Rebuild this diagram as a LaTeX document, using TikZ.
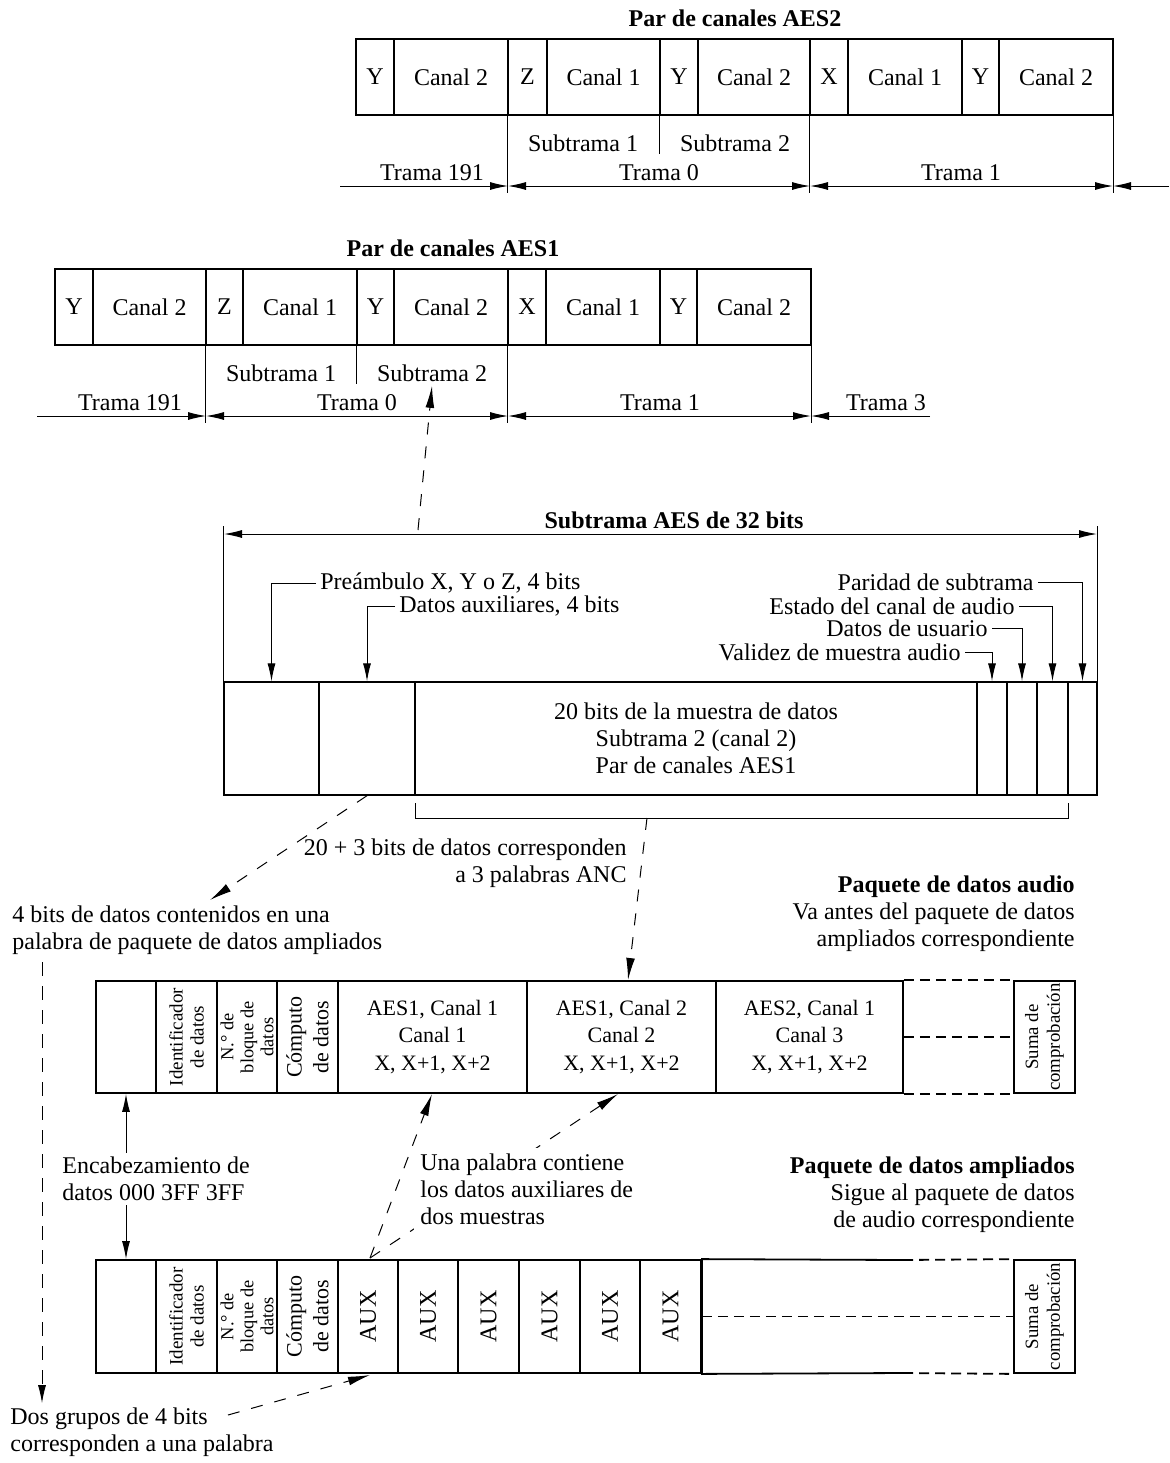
\documentclass[tikz,border=0pt]{standalone}
\usepackage{fontspec}
\setmainfont{Liberation Serif}
\usetikzlibrary{arrows.meta}
\newcommand\mkcell[7]{\node[#1, minimum width={(#4-#3)*0.5pt}, minimum height={(#6-#5)*0.5pt}] (#2) at ({(#3+#4)/2},{(#5+#6)/2}) {#7};}
\tikzset{
  every node/.style={font=\fontsize{12}{13.5}\selectfont, inner sep=2pt},
  aescell/.style={draw, line width=0.7pt, inner sep=0pt},
  pkcell/.style={draw, line width=0.9pt, inner sep=0pt, align=center, font=\fontsize{11}{13.6}\selectfont},
  hair/.style={line width=0.5pt},
  arrowend/.style={-{Latex[length=9pt,width=4pt]}},
  arrowboth/.style={{Latex[length=9pt,width=4pt]}-{Latex[length=9pt,width=4pt]}},
  dasharr/.style={line width=0.5pt, dash pattern=on 6pt off 6pt, -{Latex[length=11pt,width=4.4pt]}},
  pkdash/.style={line width=0.9pt, dash pattern=on 5pt off 3pt},
  vdash/.style={line width=0.5pt, dash pattern=on 7pt off 5pt, -{Latex[length=9pt,width=4pt]}},
  boldtitle/.style={font=\bfseries\fontsize{12}{13.5}\selectfont},
  rottext/.style={rotate=90, align=center, inner sep=0pt},
}
\begin{document}
\begin{tikzpicture}[x=0.5pt,y=-0.5pt]
\useasboundingbox (0,0) rectangle (1169,1463);

% ================= AES2 =================
\node[boldtitle] (t2) at (735,18) {Par de canales AES2};
\mkcell{aescell}{a2c1}{356}{394}{39}{115}{Y}
\mkcell{aescell}{a2c2}{394}{508}{39}{115}{Canal 2}
\mkcell{aescell}{a2c3}{508}{547}{39}{115}{Z}
\mkcell{aescell}{a2c4}{547}{660}{39}{115}{Canal 1}
\mkcell{aescell}{a2c5}{660}{698}{39}{115}{Y}
\mkcell{aescell}{a2c6}{698}{810}{39}{115}{Canal 2}
\mkcell{aescell}{a2c7}{810}{848}{39}{115}{X}
\mkcell{aescell}{a2c8}{848}{962}{39}{115}{Canal 1}
\mkcell{aescell}{a2c9}{962}{999}{39}{115}{Y}
\mkcell{aescell}{a2c10}{999}{1113}{39}{115}{Canal 2}
\draw[hair] (a2c3.south west) -- ++(0,77);
\draw[hair] (a2c7.south west) -- ++(0,77);
\draw[hair] (a2c10.south east) -- ++(0,77);
\draw[hair] (a2c5.south west) -- ++(0,38);
\node (a2s1) at (583,143) {Subtrama 1};
\node (a2s2) at (735,143) {Subtrama 2};
\node (a2f191) at (432,173) {Trama 191};
\node (a2f0) at (659,173) {Trama 0};
\node (a2f1) at (961,173) {Trama 1};
\coordinate (a2L) at (340,186);
\coordinate (a2t0) at (508,186);
\coordinate (a2t1) at (810,186);
\coordinate (a2t2) at (1113,186);
\coordinate (a2R) at (1169,186);
\draw[hair,arrowend] (a2L) -- (a2t0);
\draw[hair,arrowboth] (a2t0) -- (a2t1);
\draw[hair,arrowboth] (a2t1) -- (a2t2);
\draw[hair,arrowend] (a2R) -- (a2t2);

% ================= AES1 =================
\node[boldtitle] (t1) at (453,248) {Par de canales AES1};
\mkcell{aescell}{a1c1}{55}{93}{269}{345}{Y}
\mkcell{aescell}{a1c2}{93}{206}{269}{345}{Canal 2}
\mkcell{aescell}{a1c3}{206}{243}{269}{345}{Z}
\mkcell{aescell}{a1c4}{243}{357}{269}{345}{Canal 1}
\mkcell{aescell}{a1c5}{357}{394}{269}{345}{Y}
\mkcell{aescell}{a1c6}{394}{508}{269}{345}{Canal 2}
\mkcell{aescell}{a1c7}{508}{546}{269}{345}{X}
\mkcell{aescell}{a1c8}{546}{660}{269}{345}{Canal 1}
\mkcell{aescell}{a1c9}{660}{697}{269}{345}{Y}
\mkcell{aescell}{a1c10}{697}{811}{269}{345}{Canal 2}
\draw[hair] (a1c3.south west) -- ++(0,77);
\draw[hair] (a1c7.south west) -- ++(0,77);
\draw[hair] (a1c10.south east) -- ++(0,77);
\draw[hair] (a1c5.south west) -- ++(0,38);
\node (a1s1) at (281,373) {Subtrama 1};
\node (a1s2) at (432,373) {Subtrama 2};
\node (a1f191) at (130,403) {Trama 191};
\node (a1f0) at (357,403) {Trama 0};
\node (a1f1) at (660,403) {Trama 1};
\node (a1f3) at (886,403) {Trama 3};
\coordinate (a1L) at (37,416);
\coordinate (a1t0) at (206,416);
\coordinate (a1t1) at (508,416);
\coordinate (a1t2) at (811,416);
\coordinate (a1R) at (930,416);
\draw[hair,arrowend] (a1L) -- (a1t0);
\draw[hair,arrowboth] (a1t0) -- (a1t1);
\draw[hair,arrowboth] (a1t1) -- (a1t2);
\draw[hair,arrowend] (a1R) -- (a1t2);

% ================= Subtrama AES =================
\node[boldtitle] (tsf) at (674,520) {Subtrama AES de 32 bits};
\mkcell{aescell}{sfpre}{224}{319}{682}{795}{}
\mkcell{aescell}{sfaux}{319}{415}{682}{795}{}
\mkcell{aescell, align=center}{sfdat}{415}{977}{682}{795}{20 bits de la muestra de datos\\Subtrama 2 (canal 2)\\Par de canales AES1}
\mkcell{aescell}{sfv}{977}{1007}{682}{795}{}
\mkcell{aescell}{sfu}{1007}{1037}{682}{795}{}
\mkcell{aescell}{sfc}{1037}{1068}{682}{795}{}
\mkcell{aescell}{sfp}{1068}{1097}{682}{795}{}
\draw[hair] (sfpre.north west) -- ++(0,-155);
\draw[hair] (sfp.north east) -- ++(0,-155);
\coordinate (sfL) at (224,534);
\coordinate (sfR) at (1097,534);
\draw[hair,arrowboth] (sfL) -- (sfR);

\node[anchor=west] (lpre) at (316,583) {Preámbulo X, Y o Z, 4 bits};
\node[anchor=west] (laux) at (395,606) {Datos auxiliares, 4 bits};
\node[anchor=east] (lpar) at (1038,582) {Paridad de subtrama};
\node[anchor=east] (lest) at (1019,606) {Estado del canal de audio};
\node[anchor=east] (lusr) at (992,628) {Datos de usuario};
\node[anchor=east] (lval) at (965,652) {Validez de muestra audio};
\draw[hair,arrowend] (lpre.west) -| (sfpre.north);
\draw[hair,arrowend] (laux.west) -| (sfaux.north);
\draw[hair,arrowend] (lpar.east) -| (sfp.north);
\draw[hair,arrowend] (lest.east) -| (sfc.north);
\draw[hair,arrowend] (lusr.east) -| (sfu.north);
\draw[hair,arrowend] (lval.east) -| (sfv.north);

% bracket under 20+3 bits
\coordinate (brL) at (415,803);
\coordinate (brR) at (1068,803);
\draw[hair] (brL) -- (415,818) -- (1068,818) -- (brR);

% dashed link from subframe to Subtrama 2 of AES1
\coordinate (sfsrc) at (418,530);
\draw[dasharr] (sfsrc) -- (a1s2.south);

% ================= texts in middle =================
\node[anchor=east, align=right] (l203) at (631,863) {20 + 3 bits de datos corresponden\\a 3 palabras ANC};
\node[anchor=west, align=left] (l4b) at (8,930) {4 bits de datos contenidos en una\\palabra de paquete de datos ampliados};
\coordinate (auxtip) at (210,900);
\draw[dasharr] (sfaux.south) -- (auxtip);
\coordinate (brM) at (647,818);
\coordinate (p1tip) at (628,980);
\draw[dasharr] (brM) -- (p1tip);

\node[anchor=east, align=right] (tpa) at (1079,914) {{\bfseries Paquete de datos audio}\\Va antes del paquete de datos\\ampliados correspondiente};

% ================= Packet 1 =================
\mkcell{pkcell}{p1c0}{96}{156}{981}{1093}{}
\mkcell{pkcell}{p1c1}{156}{217}{981}{1093}{}
\mkcell{pkcell}{p1c2}{217}{277}{981}{1093}{}
\mkcell{pkcell}{p1c3}{277}{338}{981}{1093}{}
\mkcell{pkcell}{p1c4}{338}{527}{981}{1093}{AES1, Canal 1\\Canal 1\\X, X+1, X+2}
\mkcell{pkcell}{p1c5}{527}{716}{981}{1093}{AES1, Canal 2\\Canal 2\\X, X+1, X+2}
\mkcell{pkcell}{p1c6}{716}{903}{981}{1093}{AES2, Canal 1\\Canal 3\\X, X+1, X+2}
\mkcell{pkcell}{p1sum}{1014}{1075}{981}{1093}{}
\draw[pkdash] (p1c6.north east) -- (p1sum.north west);
\draw[pkdash] (p1c6.east) -- (p1sum.west);
\draw[pkdash] (p1c6.south east) -- (p1sum.south west);
\node[rottext, font=\fontsize{9.5}{10.5}\selectfont] (p1r1) at (p1c1.center) {Identificador\\de datos};
\node[rottext, font=\fontsize{9.2}{10}\selectfont] (p1r2) at (p1c2.center) {N.° de\\bloque de\\datos};
\node[rottext, font=\fontsize{11}{13.4}\selectfont] (p1r3) at (p1c3.center) {Cómputo\\de datos};
\node[rottext, font=\fontsize{9.4}{10.8}\selectfont] (p1r4) at (p1sum.center) {Suma de\\comprobación};

% header label
\node[anchor=west, align=left] (enc) at (58,1179) {Encabezamiento de\\datos 000 3FF 3FF};

% ================= Packet 2 =================
\node[anchor=east, align=right] (tpb) at (1079,1195) {{\bfseries Paquete de datos ampliados}\\Sigue al paquete de datos\\de audio correspondiente};
\mkcell{pkcell}{p2c0}{96}{156}{1260}{1373}{}
\mkcell{pkcell}{p2c1}{156}{217}{1260}{1373}{}
\mkcell{pkcell}{p2c2}{217}{277}{1260}{1373}{}
\mkcell{pkcell}{p2c3}{277}{338}{1260}{1373}{}
\mkcell{pkcell}{p2a1}{338}{398}{1260}{1373}{}
\mkcell{pkcell}{p2a2}{398}{458}{1260}{1373}{}
\mkcell{pkcell}{p2a3}{458}{519}{1260}{1373}{}
\mkcell{pkcell}{p2a4}{519}{580}{1260}{1373}{}
\mkcell{pkcell}{p2a5}{580}{640}{1260}{1373}{}
\mkcell{pkcell}{p2a6}{640}{701}{1260}{1373}{}
\mkcell{pkcell}{p2sum}{1014}{1075}{1260}{1373}{}
\draw[line width=0.9pt] (903,1260) -- (p2a6.north east) -- (p2a6.south east) -- (903,1373);
\draw[pkdash] (903,1260) -- (p2sum.north west);
\draw[pkdash] (p2a6.east) -- (p2sum.west);
\draw[pkdash] (903,1373) -- (p2sum.south west);
\node[rottext, font=\fontsize{9.5}{10.5}\selectfont] (p2r1) at (p2c1.center) {Identificador\\de datos};
\node[rottext, font=\fontsize{9.2}{10}\selectfont] (p2r2) at (p2c2.center) {N.° de\\bloque de\\datos};
\node[rottext, font=\fontsize{11}{13.4}\selectfont] (p2r3) at (p2c3.center) {Cómputo\\de datos};
\node[rottext, font=\fontsize{9.4}{10.8}\selectfont] (p2r4) at (p2sum.center) {Suma de\\comprobación};
\foreach \k in {1,...,6}{\node[rottext] (p2x\k) at (p2a\k.center) {AUX};}

% header arrows
\draw[hair,arrowend] (enc.north -| p1c0.south) -- (p1c0.south);
\draw[hair,arrowend] (enc.south -| p2c0.north) -- (p2c0.north);

% dashed arrows between packets
\coordinate (auxsrc) at (370,1258);
\coordinate (p1tipA) at (432,1094);
\coordinate (p1tipB) at (618,1094);
\draw[dasharr] (auxsrc) -- (p1tipA);
\draw[dasharr] (auxsrc) -- (p1tipB);
\node[anchor=west, align=left, fill=white, inner sep=3pt] (luna) at (414,1189) {Una palabra contiene\\los datos auxiliares de\\dos muestras};

% bottom-left notes
\node[anchor=west, align=left] (ldos) at (6,1432) {Dos grupos de 4 bits\\corresponden a una palabra};
\coordinate (dsrc) at (228,1415);
\coordinate (dtip) at (370,1375);
\draw[dasharr] (dsrc) -- (dtip);
\coordinate (vtop) at (42,962);
\draw[vdash] (vtop) -- (ldos.north -| vtop);
\end{tikzpicture}
\end{document}
